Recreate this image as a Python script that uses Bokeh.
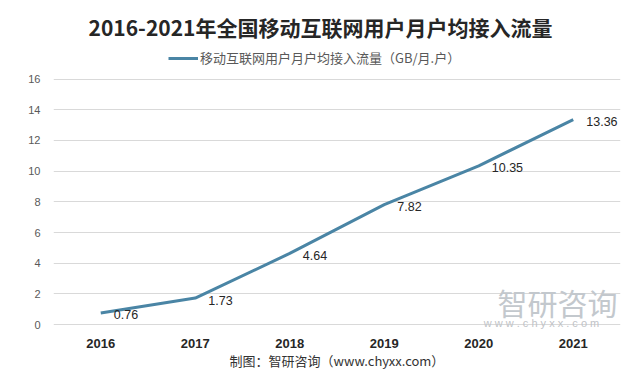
from bokeh.plotting import figure
from bokeh.models import Legend, LegendItem, Label, FactorRange, ColumnDataSource, FixedTicker
from bokeh.core.properties import value
from bokeh.embed import file_html
from bokeh.resources import INLINE

years = ["2016", "2017", "2018", "2019", "2020", "2021"]
traffic = [0.76, 1.73, 4.64, 7.82, 10.35, 13.36]
y_ticks = [0, 2, 4, 6, 8, 10, 12, 14, 16]
title_text = "2016-2021年全国移动互联网用户月户均接入流量"
series_name = "移动互联网用户月户均接入流量（GB/月.户）"
source_text = "制图：智研咨询（www.chyxx.com）"
wm_text = "智研咨询"
wm_url = "w w w . c h y x x . c o m"

LINE_COLOR = "#4a85a5"

src = ColumnDataSource(dict(x=years, y=traffic, t=[f"{v:.2f}" for v in traffic]))

# plot area extended upward so that title and legend sit inside it
p = figure(width=624, height=372, x_range=FactorRange(*years), y_range=(-0.32, 20.6),
           output_backend="svg", toolbar_location=None,
           min_border_left=53, min_border_right=4, min_border_top=8, min_border_bottom=41)
p.outline_line_color = None
p.background_fill_color = "white"

# axes
p.yaxis.ticker = FixedTicker(ticks=y_ticks)
p.yaxis.axis_line_color = None
p.yaxis.major_tick_line_color = None
p.yaxis.minor_tick_line_color = None
p.yaxis.major_tick_out = 0
p.yaxis.minor_tick_out = 0
p.yaxis.major_label_text_font = "Liberation Sans"
p.yaxis.major_label_text_font_size = "11px"
p.yaxis.major_label_text_color = "#595959"
p.yaxis.major_label_standoff = 13

p.xaxis.axis_line_color = None
p.xaxis.major_tick_line_color = None
p.xaxis.minor_tick_line_color = None
p.xaxis.major_tick_out = 0
p.xaxis.minor_tick_out = 0
p.xaxis.major_label_text_font = "Liberation Sans"
p.xaxis.major_label_text_font_size = "13px"
p.xaxis.major_label_text_font_style = "bold"
p.xaxis.major_label_text_color = "#262626"
p.xaxis.major_label_standoff = 9
p.xaxis.axis_label = source_text
p.xaxis.axis_label_text_font = "Noto Sans CJK SC"
p.xaxis.axis_label_text_font_style = "normal"
p.xaxis.axis_label_text_font_size = "13px"
p.xaxis.axis_label_text_color = "#333333"
p.xaxis.axis_label_standoff = 0

p.xgrid.grid_line_color = None
p.ygrid.grid_line_color = "#d9d9d9"
p.ygrid.grid_line_width = 1

# watermark (inside the plot area, bottom right)
p.add_layout(Label(x=504, y=28, x_units="screen", y_units="screen", text=wm_text,
                   text_align="center", text_baseline="middle",
                   text_font="Noto Sans CJK SC", text_font_size="30px",
                   text_color="#c3c8cd"))
p.add_layout(Label(x=488, y=7, x_units="screen", y_units="screen", text=wm_url,
                   text_align="center", text_baseline="middle",
                   text_font="Liberation Sans", text_font_size="11px",
                   text_color="#bfc3c7"))

# title
p.add_layout(Label(x=267, y=303, x_units="screen", y_units="screen", text=title_text,
                   text_align="center", text_baseline="middle",
                   text_font="Noto Sans CJK SC", text_font_style="bold",
                   text_font_size="21px", text_color="#262626"))

r = p.line("x", "y", source=src, line_width=3, line_color=LINE_COLOR)
p.text("x", "y", text="t", source=src, x_offset=13, y_offset=2,
       text_align="left", text_baseline="middle",
       text_font=value("Liberation Sans"), text_font_size="12.5px", text_color="#262626")

legend = Legend(items=[LegendItem(label=series_name, renderers=[r])],
                location=(115, 262), orientation="horizontal",
                padding=0, margin=0, border_line_color=None, background_fill_alpha=0,
                glyph_width=30, glyph_height=16, label_height=16, label_standoff=2,
                label_text_font="Noto Sans CJK SC", label_text_font_size="13px",
                label_text_color="#595959")
p.add_layout(legend, "center")

open("out.html", "w").write(file_html(p, INLINE))
